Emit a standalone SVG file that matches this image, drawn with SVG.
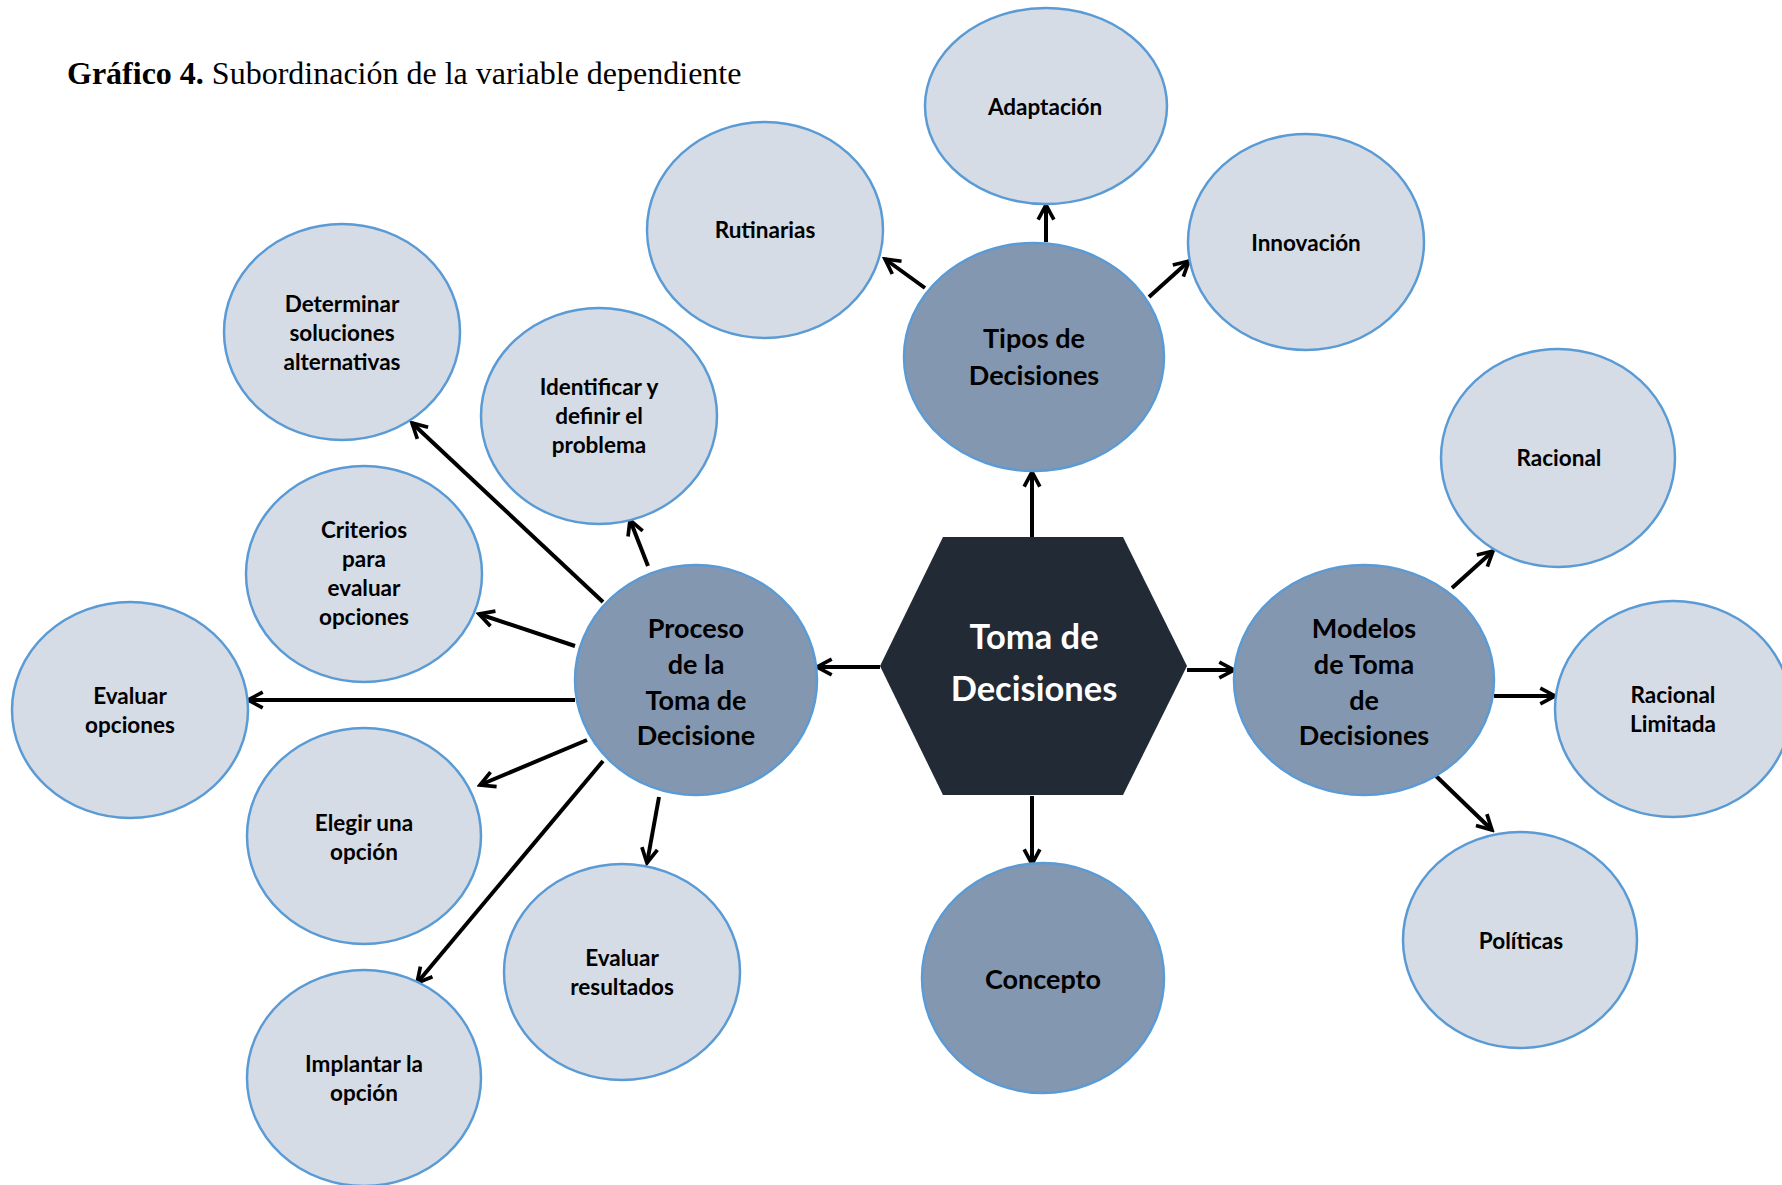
<svg xmlns="http://www.w3.org/2000/svg" width="1782" height="1185" viewBox="0 0 1782 1185">
  <style>
    .leaf { fill: #D6DCE5; stroke: #5B9BD5; stroke-width: 2.5; }
    .hub { fill: #8497B0; stroke: #5B9BD5; stroke-width: 2.5; }
    .core { fill: #222A35; }
    .t { font-family: Lato, "Open Sans", "Liberation Sans", sans-serif; font-weight: bold; fill: #000; text-anchor: middle; }
    .ts { font-size: 22.5px; }
    .tb { font-size: 27px; }
    .tc { font-size: 34.5px; fill: #FFFFFF; }
    .title { font-family: "Liberation Serif", "Times New Roman", serif; font-size: 32px; fill: #000; }
    .conn line { stroke: #000; stroke-width: 4; marker-end: url(#open); }
  </style>
  <defs>
    <marker id="open" viewBox="0 0 20 20" refX="17" refY="10" markerWidth="21" markerHeight="21" markerUnits="userSpaceOnUse" orient="auto">
      <path d="M3,2.5 L17,10 L3,17.5" fill="none" stroke="#000" stroke-width="3.5" stroke-linejoin="miter"/>
    </marker>
  </defs>

  <rect width="1782" height="1185" fill="#FFFFFF"/>

  <text class="title" x="67" y="84"><tspan font-weight="bold">Gráfico 4.</tspan> Subordinación de la variable dependiente</text>

  <!-- connectors -->
  <g id="connectors" class="conn">
    <line x1="1032" y1="537" x2="1032" y2="472"/>
    <line x1="1032" y1="796" x2="1032" y2="864"/>
    <line x1="880" y1="667" x2="817" y2="667"/>
    <line x1="1187" y1="670" x2="1234" y2="670"/>

    <line x1="1046" y1="242" x2="1046" y2="205"/>
    <line x1="925" y1="288" x2="885" y2="259"/>
    <line x1="1149" y1="297" x2="1189" y2="261"/>

    <line x1="1452" y1="588" x2="1493" y2="551"/>
    <line x1="1494" y1="696" x2="1555" y2="696"/>
    <line x1="1435" y1="775" x2="1492" y2="830"/>

    <line x1="603" y1="602" x2="412" y2="423"/>
    <line x1="648" y1="566" x2="630" y2="520"/>
    <line x1="575" y1="646" x2="479" y2="614"/>
    <line x1="575" y1="700" x2="248" y2="700"/>
    <line x1="587" y1="740" x2="480" y2="785"/>
    <line x1="603" y1="761" x2="417" y2="983"/>
    <line x1="659" y1="797" x2="647" y2="863"/>
  </g>

  <!-- central hexagon -->
  <g id="toma-de-decisiones">
    <polygon class="core" points="880,666 943,537 1123,537 1187,666 1123,795 943,795"/>
    <text class="t tc" x="1034" y="649">Toma de</text>
    <text class="t tc" x="1034" y="701">Decisiones</text>
  </g>

  <!-- main branches -->
  <g id="tipos-de-decisiones">
    <ellipse class="hub" cx="1034" cy="357" rx="130" ry="114"/>
    <text class="t tb" x="1034" y="348">Tipos de</text>
    <text class="t tb" x="1034" y="385">Decisiones</text>
  </g>
  <g id="proceso">
    <ellipse class="hub" cx="696" cy="680" rx="121" ry="115"/>
    <text class="t tb" x="696" y="638">Proceso</text>
    <text class="t tb" x="696" y="674">de la</text>
    <text class="t tb" x="696" y="710">Toma de</text>
    <text class="t tb" x="696" y="745">Decisione</text>
  </g>
  <g id="modelos">
    <ellipse class="hub" cx="1364" cy="680" rx="130" ry="115"/>
    <text class="t tb" x="1364" y="638">Modelos</text>
    <text class="t tb" x="1364" y="674">de Toma</text>
    <text class="t tb" x="1364" y="710">de</text>
    <text class="t tb" x="1364" y="745">Decisiones</text>
  </g>
  <g id="concepto">
    <ellipse class="hub" cx="1043" cy="978" rx="121" ry="115"/>
    <text class="t tb" x="1043" y="989">Concepto</text>
  </g>

  <!-- types -->
  <g id="adaptacion">
    <ellipse class="leaf" cx="1046" cy="106" rx="121" ry="98"/>
    <text class="t ts" x="1045" y="115">Adaptación</text>
  </g>
  <g id="rutinarias">
    <ellipse class="leaf" cx="765" cy="230" rx="118" ry="108"/>
    <text class="t ts" x="765" y="238">Rutinarias</text>
  </g>
  <g id="innovacion">
    <ellipse class="leaf" cx="1306" cy="242" rx="118" ry="108"/>
    <text class="t ts" x="1306" y="251">Innovación</text>
  </g>

  <!-- models -->
  <g id="racional">
    <ellipse class="leaf" cx="1558" cy="458" rx="117" ry="109"/>
    <text class="t ts" x="1559" y="466">Racional</text>
  </g>
  <g id="racional-limitada">
    <ellipse class="leaf" cx="1673" cy="709" rx="118" ry="108"/>
    <text class="t ts" x="1673" y="703">Racional</text>
    <text class="t ts" x="1673" y="732">Limitada</text>
  </g>
  <g id="politicas">
    <ellipse class="leaf" cx="1520" cy="940" rx="117" ry="108"/>
    <text class="t ts" x="1521" y="949">Políticas</text>
  </g>

  <!-- process steps -->
  <g id="determinar">
    <ellipse class="leaf" cx="342" cy="332" rx="118" ry="108"/>
    <text class="t ts" x="342" y="312">Determinar</text>
    <text class="t ts" x="342" y="341">soluciones</text>
    <text class="t ts" x="342" y="370">alternativas</text>
  </g>
  <g id="identificar">
    <ellipse class="leaf" cx="599" cy="416" rx="118" ry="108"/>
    <text class="t ts" x="599" y="395">Identificar y</text>
    <text class="t ts" x="599" y="424">definir el</text>
    <text class="t ts" x="599" y="453">problema</text>
  </g>
  <g id="criterios">
    <ellipse class="leaf" cx="364" cy="574" rx="118" ry="108"/>
    <text class="t ts" x="364" y="538">Criterios</text>
    <text class="t ts" x="364" y="567">para</text>
    <text class="t ts" x="364" y="596">evaluar</text>
    <text class="t ts" x="364" y="625">opciones</text>
  </g>
  <g id="evaluar-opciones">
    <ellipse class="leaf" cx="130" cy="710" rx="118" ry="108"/>
    <text class="t ts" x="130" y="704">Evaluar</text>
    <text class="t ts" x="130" y="733">opciones</text>
  </g>
  <g id="elegir">
    <ellipse class="leaf" cx="364" cy="836" rx="117" ry="108"/>
    <text class="t ts" x="364" y="831">Elegir una</text>
    <text class="t ts" x="364" y="860">opción</text>
  </g>
  <g id="implantar">
    <ellipse class="leaf" cx="364" cy="1078" rx="117" ry="108"/>
    <text class="t ts" x="364" y="1072">Implantar la</text>
    <text class="t ts" x="364" y="1101">opción</text>
  </g>
  <g id="evaluar-resultados">
    <ellipse class="leaf" cx="622" cy="972" rx="118" ry="108"/>
    <text class="t ts" x="622" y="966">Evaluar</text>
    <text class="t ts" x="622" y="995">resultados</text>
  </g>
</svg>
